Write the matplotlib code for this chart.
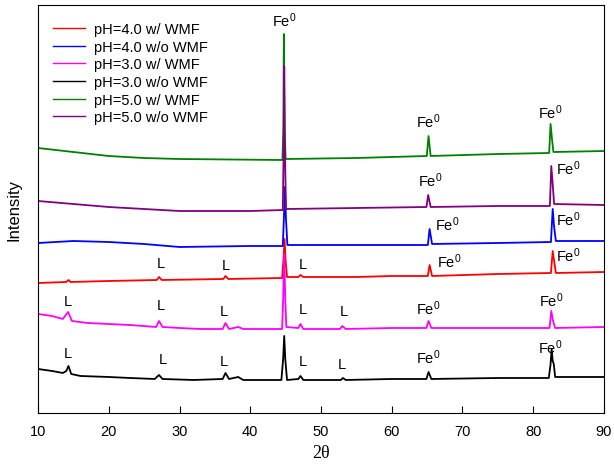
import matplotlib
matplotlib.use("Agg")
import matplotlib.pyplot as plt

plt.rcParams['font.family'] = ['Liberation Sans', 'DejaVu Sans']
plt.rcParams['mathtext.fontset'] = 'custom'
plt.rcParams['mathtext.rm'] = 'Liberation Sans'
plt.rcParams['mathtext.default'] = 'regular'

# XRD traces (2theta in degrees, intensity in arbitrary units)
x_ph4_wmf = [10, 14.0, 14.3, 14.6, 20, 26.8, 27.1, 27.5, 36.2, 36.5, 36.9, 44.5, 44.7, 44.85,
             45.0, 45.2, 46.8, 47.1, 47.5, 55, 60, 65.1, 65.35, 65.7, 75, 82.5, 82.75, 82.95,
             83.2, 90]
y_ph4_wmf = [130, 131, 133, 131, 132, 133, 136, 133, 134, 137, 134, 135, 154, 174,
             152, 136, 136, 138, 136, 136, 137, 137, 148, 137, 139, 140, 162, 152,
             140, 141]

x_ph4_nowmf = [10, 15, 20, 25, 30, 40, 44.6, 44.75, 44.9, 45.05, 45.25, 55, 65.1, 65.35, 65.7,
               75, 82.5, 82.75, 82.95, 83.2, 90]
y_ph4_nowmf = [170, 172, 171, 169, 166, 167, 167, 194, 226, 194, 168, 168, 168, 184, 169,
               170, 171, 204, 186, 172, 172]

x_ph3_wmf = [10, 12, 13.5, 14.25, 14.8, 17, 20, 23, 26.7, 27.1, 27.6, 30, 33, 36.1, 36.5, 37.0,
             38.3, 39, 44.5, 44.65, 44.8, 44.95, 45.1, 46.8, 47.1, 47.5, 52.7, 53.0, 53.5, 60,
             64.9, 65.2, 65.6, 75, 82.3, 82.55, 82.8, 83.1, 90]
y_ph3_wmf = [99, 97, 94, 101, 92, 90, 89, 88, 86, 92, 86, 85, 84, 84, 90, 84,
             86, 84, 84, 114, 159, 114, 86, 85, 89, 84, 84, 87, 84, 85,
             85, 92, 85, 85, 85, 102, 92, 85, 86]

x_ph3_nowmf = [10, 12, 13.5, 14.0, 14.3, 14.7, 16, 20, 23, 26.5, 27.1, 27.6, 32, 36.1, 36.5,
               37.0, 38.3, 39, 44.4, 44.65, 44.8, 44.95, 45.2, 46.8, 47.1, 47.5, 52.8, 53.1,
               53.5, 60, 64.9, 65.2, 65.6, 75, 82.2, 82.45, 82.6, 82.75, 82.9, 83.1, 90]
y_ph3_nowmf = [44, 42, 40, 42, 47, 39, 37, 36, 35, 34, 38, 34, 33, 34, 40,
               34, 36, 33, 33, 54, 77, 54, 33, 34, 37, 33, 33, 35,
               33, 34, 34, 41, 34, 35, 35, 49, 64, 52, 49, 36, 36]

x_ph5_wmf = [10, 15, 20, 25, 30, 44.55, 44.68, 44.75, 44.85, 45.0, 55, 64.95, 65.2, 65.5, 75,
             82.25, 82.45, 82.65, 82.85, 90]
y_ph5_wmf = [265, 261, 257, 255, 254, 253, 284, 379, 284, 254, 255, 257, 277, 257, 259,
             260, 289, 274, 261, 262]

x_ph5_nowmf = [10, 15, 20, 25, 30, 40, 44.6, 44.72, 44.8, 44.9, 45.05, 55, 64.9, 65.15, 65.5,
               75, 82.35, 82.55, 82.75, 82.95, 90]
y_ph5_nowmf = [212, 209, 206, 204, 202, 202, 203, 264, 347, 264, 204, 205, 206, 218, 206,
               207, 207, 247, 229, 209, 208]

labels = ['pH=4.0 w/ WMF', 'pH=4.0 w/o WMF', 'pH=3.0 w/ WMF',
          'pH=3.0 w/o WMF', 'pH=5.0 w/ WMF', 'pH=5.0 w/o WMF']
colors = ['#ff0000', '#0000ff', '#ff00ff', '#000000', '#008000', '#800080']

# peak annotations: (2theta, intensity)
fe_x = [44.8, 65.1, 82.4, 65.4, 84.9, 67.8, 85.0, 68.1, 85.0, 65.2, 82.6, 65.2, 82.4]
fe_y = [393, 292, 301, 233, 245, 189, 194, 152, 158, 105, 113, 56, 66]
l_x = [27.3, 36.6, 47.5, 14.2, 27.3, 36.3, 47.4, 53.2, 14.2, 27.6, 36.2, 47.4, 53.0]
l_y = [150, 148, 149, 112, 108, 102, 104, 102, 60, 54, 52, 52, 49]

traces = [(x_ph4_wmf, y_ph4_wmf), (x_ph4_nowmf, y_ph4_nowmf), (x_ph3_wmf, y_ph3_wmf),
          (x_ph3_nowmf, y_ph3_nowmf), (x_ph5_wmf, y_ph5_wmf), (x_ph5_nowmf, y_ph5_nowmf)]

fig = plt.figure(figsize=(6.14, 4.77), dpi=100)
ax = fig.add_axes([0.0619, 0.1321, 0.9218, 0.8553])

for (xs, ys), lab, col in zip(traces, labels, colors):
    ax.plot(xs, ys, color=col, lw=1.3, label=lab)

for xv, yv in zip(fe_x, fe_y):
    ax.text(xv, yv, 'Fe$^0$', ha='center', va='center', fontsize=10.5)
for xv, yv in zip(l_x, l_y):
    ax.text(xv, yv, 'L', ha='center', va='center', fontsize=10.5)

ax.set_xlim(10, 90)
ax.set_ylim(0, 408)
ax.set_xticks(range(10, 91, 10))
ax.set_yticks([])
ax.tick_params(axis='x', direction='in', length=5, labelsize=10.5, pad=8)
ax.set_xlabel('2θ', family='Liberation Serif', fontsize=13, labelpad=4)
ax.set_ylabel('Intensity', fontsize=12)
ax.yaxis.set_label_coords(-0.029, 0.5)

leg = ax.legend(loc='upper left', bbox_to_anchor=(0.0265, 0.958), frameon=False,
                fontsize=10.5, handlelength=2.2, handletextpad=0.6, labelspacing=0.25,
                borderpad=0, borderaxespad=0)
for line in leg.get_lines():
    line.set_linewidth(1.0)

fig.savefig('out.png', dpi=100)
